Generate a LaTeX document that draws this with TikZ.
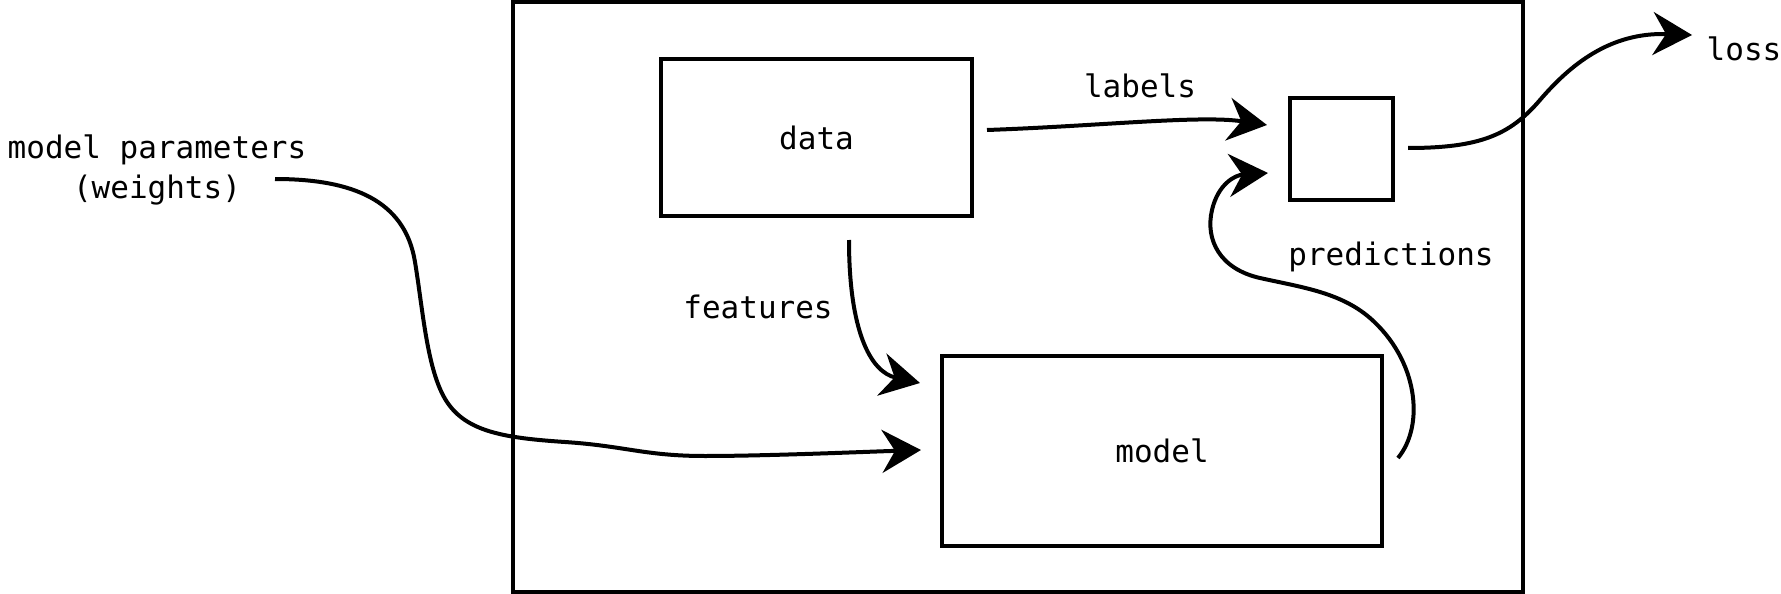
\documentclass[tikz,border=0pt]{standalone}
\usepackage{fontspec}
\setmonofont{DejaVu Sans Mono}
\usetikzlibrary{arrows.meta}
\begin{document}
\begin{tikzpicture}[x=1pt,y=-1pt,
  lbl/.style={font=\ttfamily\fontsize{31pt}{37pt}\selectfont, inner sep=0pt},
  box/.style={draw, line width=4pt, inner sep=0pt, lbl},
  conn/.style={line width=4pt, -{Stealth[length=39pt,width=43pt,inset=13pt]}},
]
\useasboundingbox (0,0) rectangle (1781,594);

% outer frame
\node[draw, line width=3.5pt, minimum width=1010, minimum height=590, inner sep=0pt] (frame) at (1018,297) {};

% boxes
\node[box, minimum width=311, minimum height=157] (data) at (816.5,137.5) {data};
\node[box, minimum width=440, minimum height=190] (model) at (1162,451) {model};
\node[box, minimum width=103, minimum height=102] (loss fn) at (1341.5,149) {};

% labels
\node[lbl, anchor=base] (params) at (157,158) {model parameters};
\node[lbl, anchor=base] (weights) at (157,198) {(weights)};
\node[lbl, anchor=base] (labels) at (1140,98) {labels};
\node[lbl, anchor=base] (features) at (758,318) {features};
\node[lbl, anchor=base] (predictions) at (1391,265) {predictions};
\node[lbl, anchor=base] (loss) at (1744,61) {loss};

% connector ends
\coordinate (pstart) at (275,179);
\coordinate (ptip) at (921,450);
\coordinate (fstart) at (849,240);
\coordinate (ftip) at (920,383);
\coordinate (lstart) at (987,130);
\coordinate (ltip) at (1267,125);
\coordinate (qstart) at (1398,458);
\coordinate (qtip) at (1268,173);
\coordinate (sstart) at (1408,148);
\coordinate (stip) at (1692,35);

% weights into the model
\draw[conn] (pstart) .. controls (352,179) and (405,200) .. (415,262)
  .. controls (423,310) and (427,372) .. (447,402)
  .. controls (467,432) and (505,438) .. (565,442)
  .. controls (625,446) and (645,456) .. (705,456)
  .. controls (765,456) and (860,452) .. (ptip);

% features
\draw[conn] (fstart) .. controls (849,330) and (870,372) .. (ftip);

% labels
\draw[conn] (lstart) .. controls (1100,126) and (1200,115) .. (ltip);

% predictions
\draw[conn] (qstart) .. controls (1425,425) and (1418,360) .. (1370,318)
  .. controls (1340,292) and (1300,287) .. (1260,278)
  .. controls (1220,269) and (1205,240) .. (1212,210)
  .. controls (1218,184) and (1235,175) .. (qtip);

% loss
\draw[conn] (sstart) .. controls (1480,148) and (1510,135) .. (1540,100)
  .. controls (1570,65) and (1610,32) .. (stip);
\end{tikzpicture}
\end{document}
